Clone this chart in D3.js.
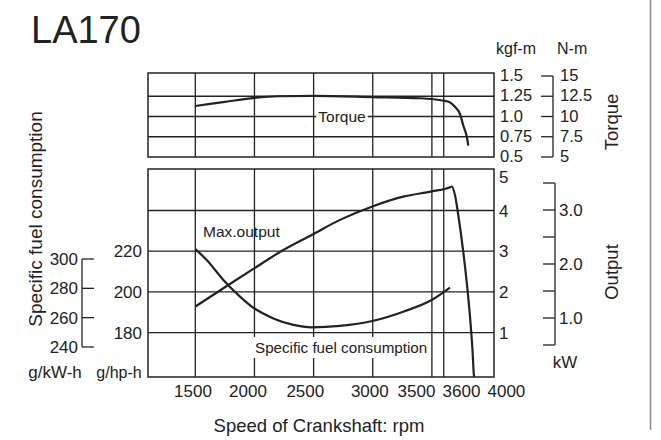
<!DOCTYPE html>
<html>
<head>
<meta charset="utf-8">
<script src="https://cdn.jsdelivr.net/npm/d3@7"></script>
<style>
    body { margin: 0; background: #fff; }
    svg { display: block; font-family: "Liberation Sans", Arial, Helvetica, sans-serif; fill: #222; }
</style>
</head>
<body>
<svg width="661" height="440"></svg>
<script>
// speed of crankshaft (rpm) where the vertical grid lines sit
const gridRpm = [1500, 2000, 2500, 3000, 3500, 3600];
// x tick labels, and where along the rpm axis the printed labels sit
const rpmLabels = ["1500", "2000", "2500", "3000", "3500", "3600", "4000"];
const rpmLabelAt = [1480, 1945, 2430, 2975, 3370, 3750, 4130];

// torque curve: rpm / kgf-m
const torqueRpm = [1500, 1750, 2000, 2200, 2500, 3000, 3400, 3600, 3650, 3695, 3740, 3765, 3795, 3808];
const torqueKgfm = [1.13, 1.18, 1.23, 1.25, 1.255, 1.24, 1.225, 1.195, 1.175, 1.12, 1.02, 0.89, 0.75, 0.64];

// max output curve: rpm / PS
const outputRpm = [1500, 1737, 1977, 2244, 2484, 2723, 2996, 3258, 3498, 3653, 3667, 3695, 3723, 3765, 3794, 3821, 3844, 3855, 3860];
const outputPs = [1.64, 2.09, 2.54, 3.03, 3.40, 3.77, 4.10, 4.34, 4.47, 4.57, 4.59, 4.38, 3.89, 2.99, 2.25, 1.43, 0.53, -0.04, -0.09];

// specific fuel consumption: rpm / g/hp-h
const sfcRpm = [1500, 1596, 1737, 1878, 1977, 2160, 2329, 2484, 2723, 2996, 3258, 3498, 3653];
const sfcGhph = [221, 215.7, 205.9, 197.7, 192.8, 187, 183.8, 182.6, 183.3, 185.7, 190.3, 196, 202.1];

// axis ticks
const torqueTicks = [0.5, 0.75, 1.0, 1.25, 1.5];
const torqueTickLabels = ["0.5", "0.75", "1.0", "1.25", "1.5"];
const nmTicks = [5, 7.5, 10, 12.5, 15];
const nmTickLabels = ["5", "7.5", "10", "12.5", "15"];
const outputTicks = [1, 2, 3, 4, 5];
const kwTicks = [0.5, 1.0, 1.5, 2.0, 2.5, 3.0, 3.5];
const kwTickLabels = ["", "1.0", "", "2.0", "", "3.0", ""];
const sfcTicks = [180, 200, 220];
const sfcKwTicks = [240, 260, 280, 300];

const ink = "#222";
const svg = d3.select("svg");

const plotLeft = 148, plotRight = 494;
const topPanel = {top: 73, bottom: 157};
const lowPanel = {top: 169, bottom: 377};

const x = d3.scaleLinear().domain([1100, 4025]).range([plotLeft, plotRight]);
const yTorque = d3.scaleLinear().domain([0.5, 1.5]).range([157, 76]);
const yNm = d3.scaleLinear().domain([5, 15]).range([157, 76]);
const yOutput = d3.scaleLinear().domain([-0.09, 5.02]).range([377, 169]);
const ySfc = d3.scaleLinear().domain([158.2, 260.4]).range([377, 169]);
const yKw = d3.scaleLinear().domain([0.5, 3.5]).range([345, 183]);
const ySfcKw = d3.scaleLinear().domain([240, 300]).range([347, 259]);

const addText = (g, str, px, py, size, anchor = "start") => g.append("text")
    .attr("x", px).attr("y", py)
    .attr("font-size", size)
    .attr("text-anchor", anchor)
    .text(str);

const withBackground = (g, textSel, padX, padY) => {
    const b = textSel.node().getBBox();
    g.insert("rect", () => textSel.node())
        .attr("x", b.x - padX).attr("y", b.y - padY)
        .attr("width", b.width + 2 * padX).attr("height", b.height + 2 * padY)
        .attr("fill", "#fff");
};

// title and right edge rule
addText(svg, "LA170", 31, 43, 38);
svg.append("line")
    .attr("x1", 650.5).attr("x2", 650.5).attr("y1", 0).attr("y2", 430)
    .attr("stroke", "#888").attr("stroke-width", 1.5);

const grid = svg.append("g").attr("stroke", ink).attr("stroke-width", 1.3);

const drawPanel = (panel, hLines) => {
    grid.selectAll(null).data(gridRpm).enter().append("line")
        .attr("x1", d => x(d)).attr("x2", d => x(d))
        .attr("y1", panel.top).attr("y2", panel.bottom);
    grid.selectAll(null).data(hLines).enter().append("line")
        .attr("x1", plotLeft).attr("x2", plotRight)
        .attr("y1", d => d).attr("y2", d => d);
    grid.append("rect")
        .attr("x", plotLeft).attr("y", panel.top)
        .attr("width", plotRight - plotLeft).attr("height", panel.bottom - panel.top)
        .attr("fill", "none").attr("stroke-width", 1.5);
};

drawPanel(topPanel, [0.75, 1.0, 1.25].map(yTorque));
drawPanel(lowPanel, [1, 2, 3, 4].map(yOutput));

// in-plot labels with white backing
const labels = svg.append("g");
const torqueLabel = addText(labels, "Torque", 342, 122, 15.5, "middle");
withBackground(labels, torqueLabel, 2, -2);
const sfcLabel = addText(labels, "Specific fuel consumption", 255, 353, 15.2);
withBackground(labels, sfcLabel, 3, 2);
addText(labels, "Max.output", 203, 237, 15.5);

// curves
const curves = svg.append("g").attr("fill", "none").attr("stroke", ink).attr("stroke-width", 2.2);
const drawCurve = (xs, ys, yScale) => curves.append("path")
    .datum(xs.map((r, i) => [r, ys[i]]))
    .attr("d", d3.line().x(d => x(d[0])).y(d => yScale(d[1])).curve(d3.curveMonotoneX));

drawCurve(torqueRpm, torqueKgfm, yTorque);
drawCurve(outputRpm, outputPs, yOutput);
drawCurve(sfcRpm, sfcGhph, ySfc);

// x tick labels
const xLab = svg.append("g");
rpmLabels.forEach((t, i) => addText(xLab, t, x(rpmLabelAt[i]), 397, 17, "middle"));
addText(svg, "Speed of Crankshaft: rpm", 319, 432, 18.5, "middle");

// torque axes on the right
const right = svg.append("g");
torqueTicks.forEach((v, i) => addText(right, torqueTickLabels[i], 500, yTorque(v) + 5, 16.5));
addText(right, "kgf-m", 496, 54, 16);
addText(right, "N-m", 557, 54, 16);

const bracket = svg.append("g").attr("stroke", ink).attr("stroke-width", 1.3).attr("fill", "none");
const drawBracket = (bx, ticks, scale, dir) => {
    const ext = d3.extent(ticks.map(scale));
    bracket.append("line").attr("x1", bx).attr("x2", bx).attr("y1", ext[0]).attr("y2", ext[1]);
    bracket.selectAll(null).data(ticks).enter().append("line")
        .attr("x1", bx).attr("x2", bx + dir * 12)
        .attr("y1", d => scale(d)).attr("y2", d => scale(d));
};

drawBracket(553, nmTicks, yNm, -1);
nmTicks.forEach((v, i) => addText(right, nmTickLabels[i], 560, yNm(v) + 5, 16.5));

// output axes (top label sits just inside the panel)
outputTicks.forEach(v => addText(right, String(v), 499, Math.max(yOutput(v) + 6, lowPanel.top + 14), 17));
drawBracket(555, kwTicks, yKw, -1);
kwTicks.forEach((v, i) => addText(right, kwTickLabels[i], 559, yKw(v) + 6, 17));
addText(right, "kW", 565, 368, 17, "middle");

// fuel consumption axes on the left
const left = svg.append("g");
sfcTicks.forEach(v => addText(left, String(v), 142, ySfc(v) + 6, 17, "end"));
drawBracket(82, sfcKwTicks, ySfcKw, 1);
sfcKwTicks.forEach(v => addText(left, String(v), 78, ySfcKw(v) + 6, 17, "end"));
addText(left, "g/kW-h", 55, 378, 17, "middle");
addText(left, "g/hp-h", 119, 378, 16, "middle");

// rotated axis titles
const rotated = (str, cx, cy, size) => svg.append("text")
    .attr("transform", `translate(${cx},${cy}) rotate(-90)`)
    .attr("text-anchor", "middle")
    .attr("dy", "0.35em")
    .attr("font-size", size)
    .text(str);

rotated("Specific fuel consumption", 35, 219, 19);
rotated("Torque", 612, 122, 18.5);
rotated("Output", 612, 272, 18.5);
</script>
</body>
</html>
